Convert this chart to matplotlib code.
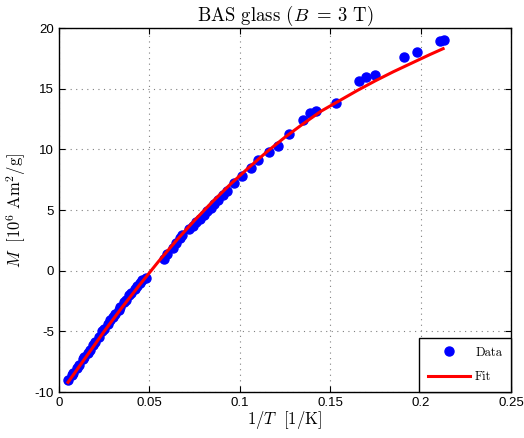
import matplotlib
matplotlib.use("Agg")
import matplotlib.pyplot as plt
from matplotlib.ticker import FuncFormatter

plt.rcParams['mathtext.fontset'] = 'cm'
plt.rcParams['axes.unicode_minus'] = False
plt.rcParams['font.family'] = ['Liberation Sans', 'DejaVu Sans']

data_x = [0.005, 0.007, 0.008, 0.010, 0.011, 0.013, 0.014, 0.016, 0.017, 0.019,
          0.020, 0.022, 0.024, 0.025, 0.027, 0.028, 0.030, 0.031, 0.033, 0.034,
          0.036, 0.037, 0.039, 0.040, 0.042, 0.043, 0.045, 0.046, 0.048,
          0.058, 0.060, 0.063, 0.065, 0.067, 0.068, 0.072, 0.074, 0.076, 0.078,
          0.080, 0.082, 0.084, 0.086, 0.088, 0.091, 0.093, 0.097, 0.101, 0.106,
          0.110, 0.116, 0.121, 0.127, 0.135, 0.139, 0.142, 0.153, 0.166, 0.170,
          0.175, 0.191, 0.198, 0.211, 0.213]
data_y = [-9.0, -8.6, -8.4, -8.0, -7.8, -7.3, -7.1, -6.8, -6.5, -6.1,
          -5.9, -5.5, -5.0, -4.8, -4.4, -4.1, -3.8, -3.6, -3.2, -3.0,
          -2.6, -2.4, -2.0, -1.8, -1.5, -1.3, -1.0, -0.8, -0.6,
          1.0, 1.4, 1.9, 2.3, 2.7, 2.9, 3.4, 3.7, 4.0, 4.3,
          4.6, 4.9, 5.2, 5.5, 5.8, 6.2, 6.6, 7.2, 7.8, 8.5,
          9.1, 9.8, 10.3, 11.3, 12.4, 13.0, 13.2, 13.8, 15.6, 16.0,
          16.1, 17.6, 18.0, 18.9, 19.0]

# fitted curve
fit_x = [0.005, 0.015, 0.025, 0.035, 0.045, 0.055, 0.065, 0.075, 0.085, 0.095,
         0.105, 0.115, 0.125, 0.135, 0.145, 0.155, 0.165, 0.175, 0.185, 0.195,
         0.205, 0.2125]
fit_y = [-9.2, -7.1, -5.0, -3.0, -1.1, 0.75, 2.5, 4.15, 5.7, 7.15,
         8.5, 9.8, 11.0, 12.1, 13.15, 14.0, 14.85, 15.65, 16.4, 17.1,
         17.8, 18.3]

fig = plt.figure(figsize=(5.24, 4.38), dpi=100)
ax = fig.add_axes([0.1126, 0.105, 0.8624, 0.831])

ax.plot(data_x, data_y, 'o', color='blue', markersize=6.5, label='Data')
ax.plot(fit_x, fit_y, '-', color='red', linewidth=2.2, label='Fit')

ax.set_xlim(0, 0.25)
ax.set_ylim(-10, 20)
ax.set_xticks([0, 0.05, 0.1, 0.15, 0.2, 0.25])
ax.set_yticks([-10, -5, 0, 5, 10, 15, 20])
ax.xaxis.set_major_formatter(FuncFormatter(lambda v, p: '{:g}'.format(v)))
ax.tick_params(direction='in', top=True, right=True, labelsize=9.5, length=4)

ax.grid(color='gray', linestyle=(0, (1, 4)), linewidth=0.8)
for s in ax.spines.values():
    s.set_linewidth(1.0)

ax.set_title(r'BAS glass ($B\,$ = 3 T)', fontname='cmr10', fontsize=13.5, pad=5)
ax.set_xlabel(r'$1/T\ \ [1/\mathrm{K}]$', fontsize=12, labelpad=0)
ax.set_ylabel(r'$M\ \ [10^6\ \mathrm{Am}^2/\mathrm{g}]$', fontsize=12, labelpad=5)

leg = ax.legend(loc='lower right', borderaxespad=0, fancybox=False,
                edgecolor='black', framealpha=1,
                prop={'family': 'cmr10', 'size': 9}, handlelength=3.4,
                borderpad=0.7, labelspacing=1.0, handletextpad=0.4)
leg.get_frame().set_linewidth(1.0)

fig.savefig('out.png', dpi=100)
